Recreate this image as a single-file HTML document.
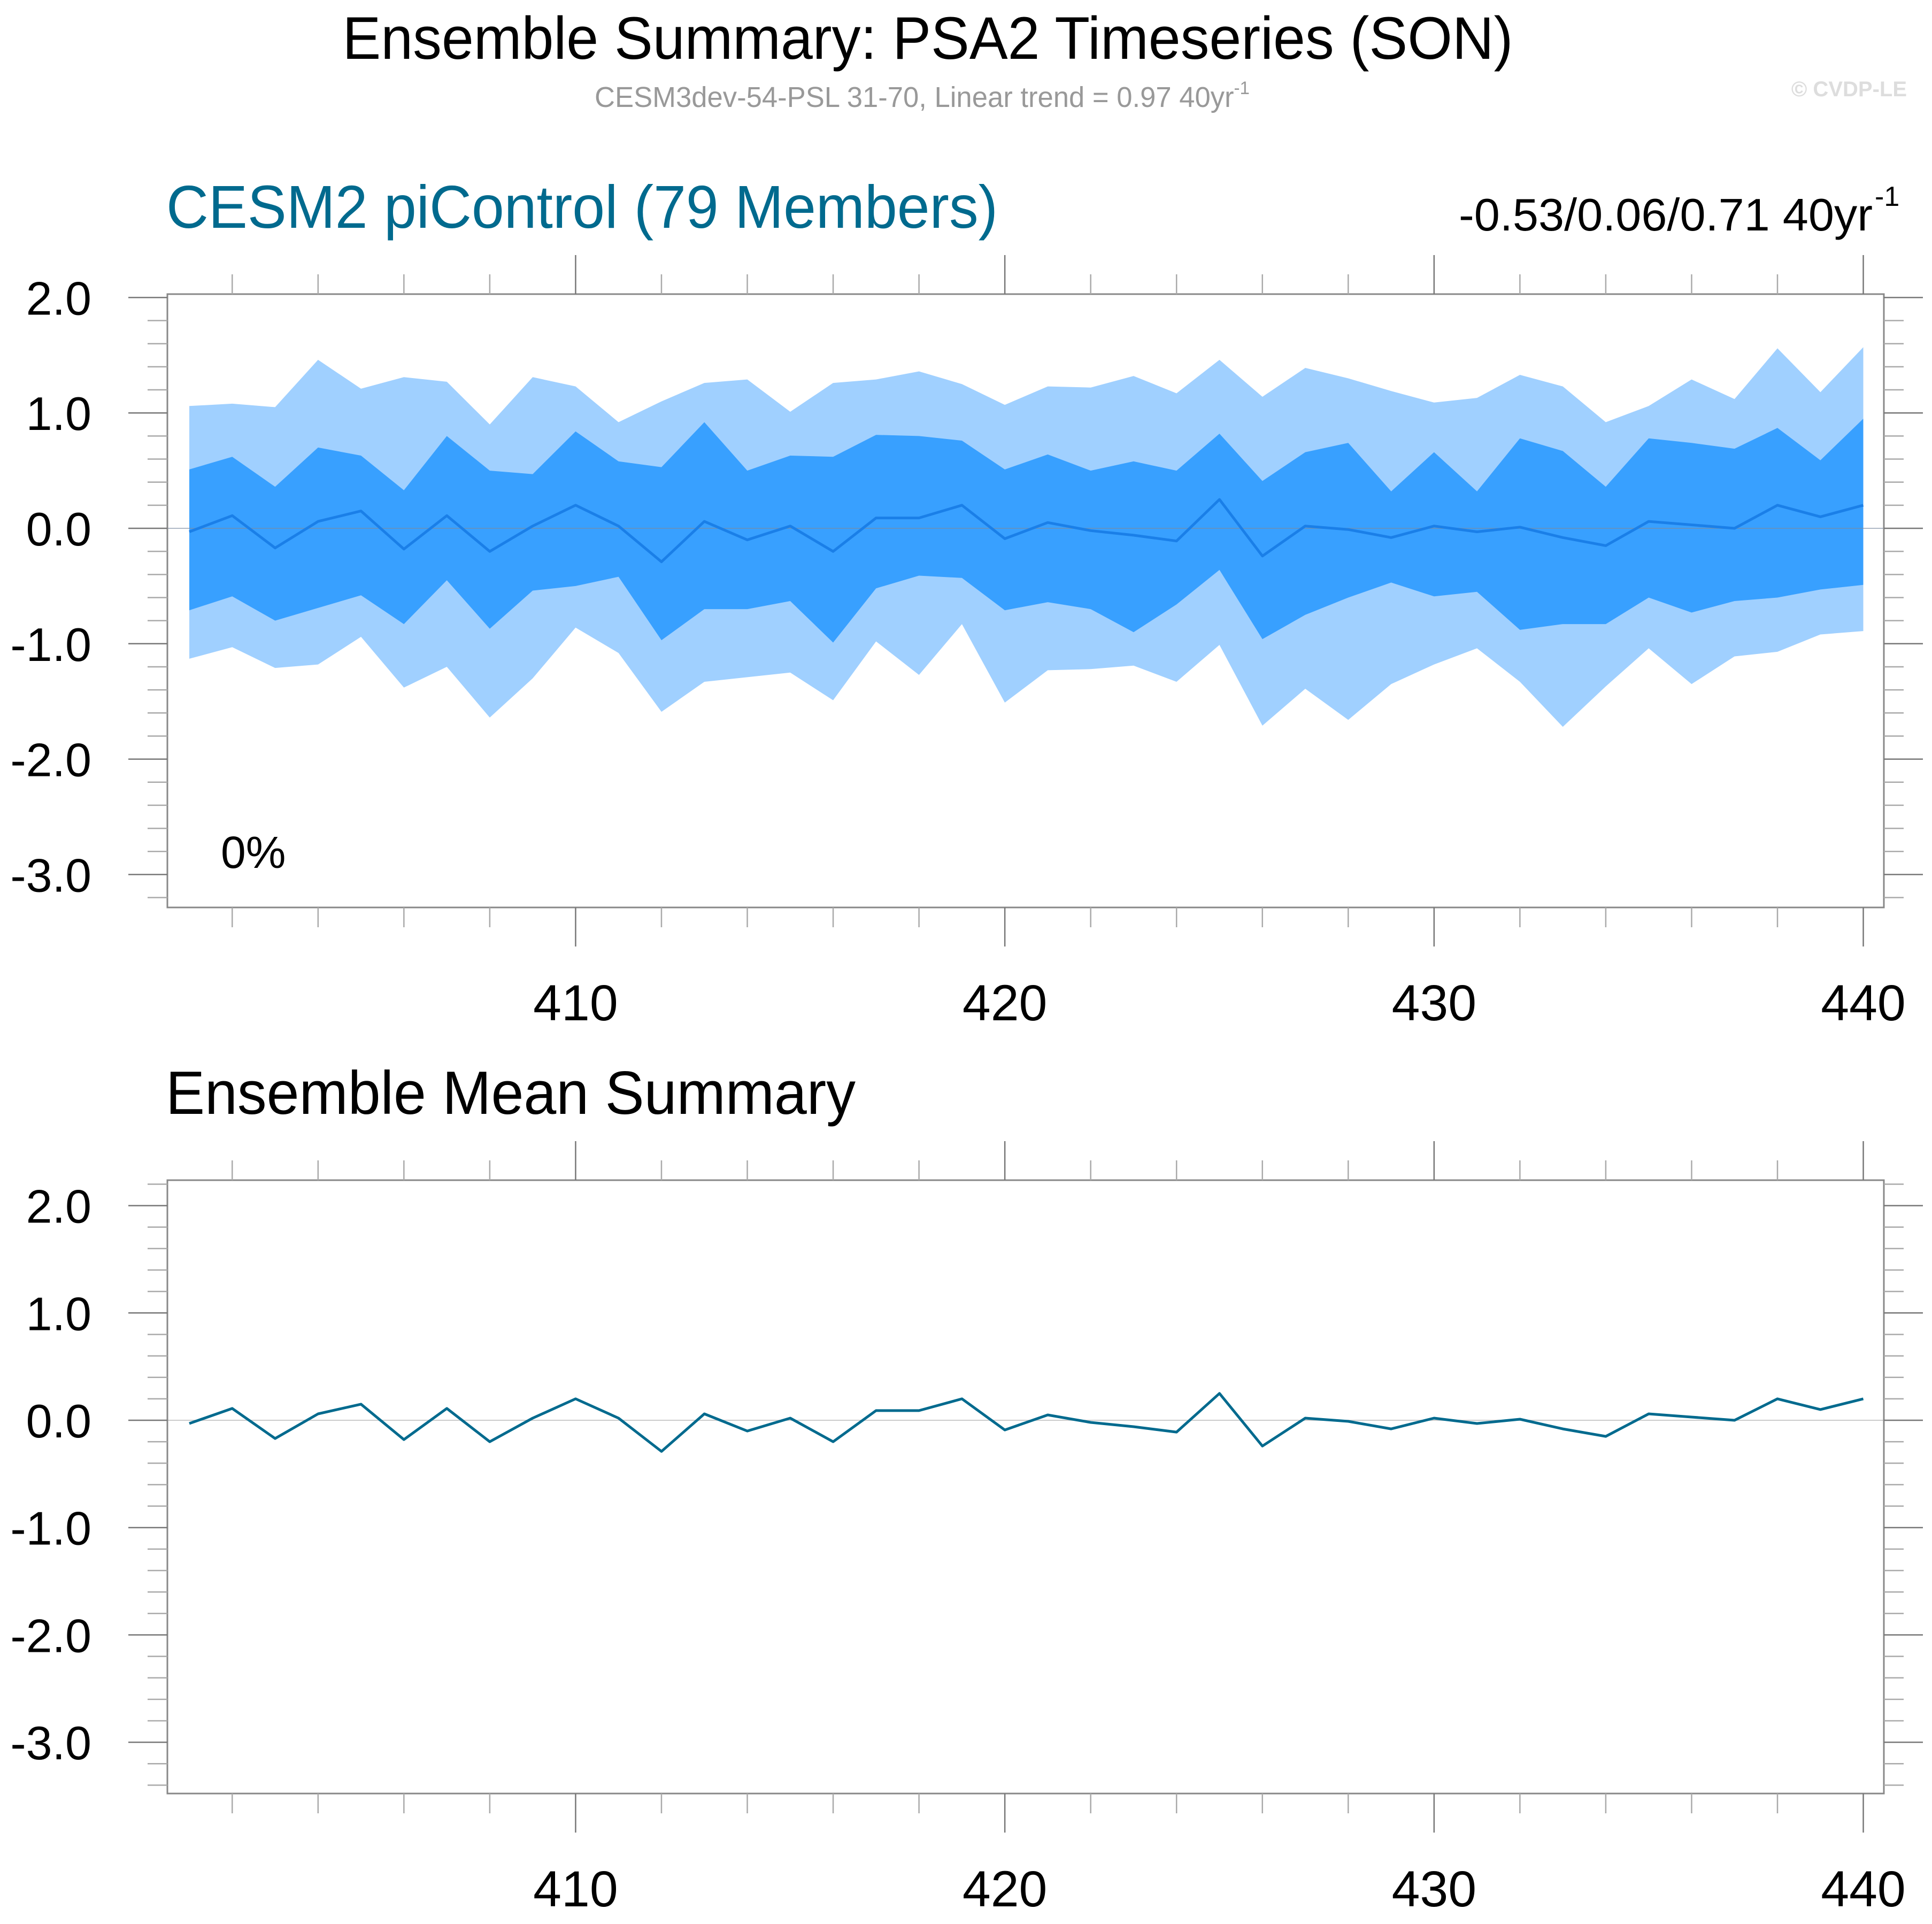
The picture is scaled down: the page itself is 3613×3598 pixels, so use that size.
<!DOCTYPE html>
<html><head><meta charset="utf-8"><style>html,body{margin:0;padding:0;background:#fff}svg{display:block}text{font-family:"Liberation Sans",sans-serif}</style></head>
<body>
<svg id="chart" xmlns="http://www.w3.org/2000/svg" width="3613" height="3598" viewBox="0 0 3613 3598">
<rect x="0" y="0" width="3613" height="3598" fill="#fff"/>
<text x="1735" y="110" font-size="112" text-anchor="middle" textLength="2189" lengthAdjust="spacingAndGlyphs">Ensemble Summary: PSA2 Timeseries (SON)</text>
<text x="1112" y="200" font-size="54" fill="#999" textLength="1225" lengthAdjust="spacingAndGlyphs">CESM3dev-54-PSL 31-70, Linear trend = 0.97 40yr<tspan dy="-24" font-size="34">-1</tspan></text>
<text x="3566" y="180" font-size="40" font-weight="bold" fill="#ddd" text-anchor="end">© CVDP-LE</text>
<text x="311" y="426" font-size="113" fill="#006a8e" textLength="1555" lengthAdjust="spacingAndGlyphs">CESM2 piControl (79 Members)</text>
<text x="2728" y="431" font-size="85" textLength="774" lengthAdjust="spacingAndGlyphs">-0.53/0.06/0.71 40yr</text>
<text x="3506" y="385" font-size="52">-1</text>
<text x="413" y="1623" font-size="84">0%</text>
<text x="310" y="2083" font-size="114" textLength="1290" lengthAdjust="spacingAndGlyphs">Ensemble Mean Summary</text>
<g id="p1"></g>
<g id="p2"></g>
</svg>
<script>
const years = [];
for (let y = 401; y <= 440; y++) years.push(y);
const maxVals = [1.06,1.08,1.05,1.46,1.21,1.31,1.27,0.90,1.31,1.23,0.92,1.10,1.26,1.29,1.01,1.26,1.29,1.36,1.25,1.07,1.23,1.22,1.32,1.17,1.46,1.14,1.39,1.30,1.19,1.09,1.13,1.33,1.23,0.92,1.06,1.29,1.12,1.56,1.18,1.57];
const upperVals = [0.51,0.62,0.36,0.70,0.63,0.33,0.80,0.50,0.47,0.84,0.58,0.53,0.92,0.50,0.63,0.62,0.81,0.80,0.76,0.51,0.64,0.50,0.58,0.50,0.82,0.41,0.66,0.74,0.32,0.66,0.32,0.78,0.67,0.36,0.78,0.74,0.69,0.87,0.59,0.95];
const meanVals = [-0.03,0.11,-0.17,0.06,0.15,-0.18,0.11,-0.20,0.02,0.20,0.02,-0.29,0.06,-0.10,0.02,-0.20,0.09,0.09,0.20,-0.09,0.05,-0.02,-0.06,-0.11,0.25,-0.24,0.02,-0.01,-0.08,0.02,-0.03,0.01,-0.08,-0.15,0.06,0.03,0.00,0.20,0.10,0.20];
const lowerVals = [-0.71,-0.59,-0.80,-0.69,-0.58,-0.83,-0.45,-0.87,-0.54,-0.50,-0.42,-0.97,-0.70,-0.70,-0.63,-0.99,-0.52,-0.41,-0.43,-0.71,-0.64,-0.70,-0.90,-0.66,-0.36,-0.96,-0.75,-0.60,-0.47,-0.59,-0.55,-0.88,-0.83,-0.83,-0.60,-0.73,-0.63,-0.60,-0.53,-0.49];
const minVals = [-1.13,-1.03,-1.21,-1.18,-0.94,-1.38,-1.20,-1.64,-1.30,-0.86,-1.08,-1.59,-1.33,-1.29,-1.25,-1.49,-0.98,-1.27,-0.83,-1.51,-1.23,-1.22,-1.19,-1.33,-1.01,-1.71,-1.39,-1.66,-1.35,-1.18,-1.04,-1.33,-1.72,-1.37,-1.04,-1.35,-1.11,-1.07,-0.92,-0.89];
const yTickVals = [2, 1, 0, -1, -2, -3];
const yTickLabels = ["2.0","1.0","0.0","-1.0","-2.0","-3.0"];
const xTickVals = [410, 420, 430, 440];
const xTickLabels = ["410","420","430","440"];

const NS = "http://www.w3.org/2000/svg";
const L = 313, R = 3523;
function xs(yr){ return 354 + (yr - 401) * 80.27; }
function mk(tag, attrs, parent){ const e = document.createElementNS(NS, tag); for (const k in attrs) e.setAttribute(k, attrs[k]); parent.appendChild(e); return e; }

function panel(g, top, bottom, y0, unit, bands, lineColor, lineW){
  const ys = v => y0 - v * unit;
  const vmax = (y0 - top) / unit, vmin = (y0 - bottom) / unit;
  if (bands) {
    const poly = (hi, lo, col, name) => {
      let pts = years.map((yr,i) => xs(yr).toFixed(1)+","+ys(hi[i]).toFixed(1));
      for (let i = years.length-1; i >= 0; i--) pts.push(xs(years[i]).toFixed(1)+","+ys(lo[i]).toFixed(1));
      const p = mk("polygon", {points: pts.join(" "), fill: col}, g);
      
      
    };
    poly(maxVals, minVals, "#a0d0ff", "range-band");
    poly(upperVals, lowerVals, "#38a0ff", "interquartile-band");
  }
  const z = mk("line", {x1:L, x2:R, y1:ys(0), y2:ys(0), stroke: bands ? "#7a8aa0" : "#ccc", "stroke-width":2, "stroke-opacity": bands?0.6:1}, g);
  
  
  const ml = mk("polyline", {points: years.map((yr,i)=>xs(yr).toFixed(1)+","+ys(meanVals[i]).toFixed(1)).join(" "), fill:"none", stroke: lineColor, "stroke-width": lineW, "stroke-linejoin":"round"}, g);
  
  
  const fr = mk("rect", {x:L, y:top, width:R-L, height:bottom-top, fill:"none", stroke:"#888", "stroke-width":3}, g);
  
  
  // y ticks
  for (let m = -40; m <= 30; m++) {
    const v = m / 10;
    if (Math.abs(m) % 2 !== 0) continue;
    if (v > vmax || v < vmin) continue;
    const major = (m % 10 === 0);
    const len = major ? 73 : 37;
    const y = ys(v);
    const t1 = mk("line", {x1:L-len, x2:L, y1:y, y2:y, stroke: major ? "#777" : "#aaa", "stroke-width":2.5}, g);
    
    
    const t2 = mk("line", {x1:R, x2:R+len, y1:y, y2:y, stroke: major ? "#777" : "#aaa", "stroke-width":2.5}, g);
    
    
  }
  yTickVals.forEach((v,i) => {
    const t = mk("text", {x:171, y:ys(v)+32, "font-size":88, "text-anchor":"end"}, g);
    t.textContent = yTickLabels[i];
    
    
  });
  // x ticks
  for (let yr = 402; yr <= 440; yr += 2) {
    const major = (yr % 10 === 0);
    const len = major ? 73 : 37;
    const x = xs(yr);
    const a = mk("line", {x1:x, x2:x, y1:top-len, y2:top, stroke: major ? "#777" : "#aaa", "stroke-width":2.5}, g);
    
    
    const b = mk("line", {x1:x, x2:x, y1:bottom, y2:bottom+len, stroke: major ? "#777" : "#aaa", "stroke-width":2.5}, g);
    
    
  }
  xTickVals.forEach((v,i) => {
    const t = mk("text", {x:xs(v), y:bottom+211, "font-size":95, "text-anchor":"middle"}, g);
    t.textContent = xTickLabels[i];
    
    
  });
}
panel(document.getElementById("p1"), 550, 1697, 988, 215.8, true, "#1a7fe8", 5);
panel(document.getElementById("p2"), 2207, 3354, 2656, 200.7, false, "#006a8e", 5);
</script>
</body></html>
